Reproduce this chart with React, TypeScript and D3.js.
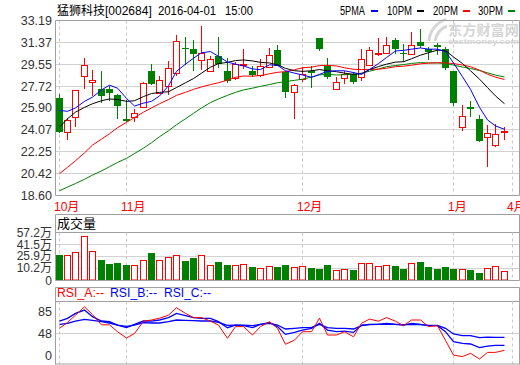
import * as d3 from 'd3';

// daily candles, 2015-10 .. 2016-04-01 (prices in yuan)
const opens = [26.75, 23.9, 25.13, 28.6, 28.05, 27.45, 27.45, 27.0, 24.95, 25.1, 26.0, 28.95, 27.2, 27.7, 28.75, 30.9, 30.85, 29.9, 29.0, 30.2, 29.0, 28.4, 29.45, 28.95, 28.65, 29.35, 30.75, 28.9, 27.3, 28.3, 29.0, 31.7, 29.4, 27.45, 28.4, 28.75, 28.5, 29.45, 30.4, 30.5, 31.55, 30.45, 30.4, 31.4, 30.85, 31.15, 30.8, 28.95, 24.3, 26.0, 25.0, 23.55, 22.8, 23.85];
const highs = [27.1, 25.1, 27.4, 30.1, 29.1, 28.95, 27.7, 27.1, 26.6, 25.85, 28.05, 29.6, 28.6, 29.8, 31.95, 31.8, 31.55, 32.75, 30.25, 31.8, 30.1, 29.7, 30.8, 29.4, 29.95, 30.9, 31.15, 29.0, 27.9, 29.3, 29.4, 31.75, 30.05, 28.5, 29.0, 28.9, 30.8, 31.0, 31.7, 31.85, 31.75, 31.2, 32.2, 32.5, 31.0, 31.3, 30.95, 28.95, 26.15, 26.45, 25.3, 24.45, 24.6, 24.3];
const lows = [23.85, 23.25, 24.3, 27.5, 26.9, 26.3, 26.45, 25.0, 24.7, 24.75, 25.95, 27.85, 27.1, 26.95, 28.6, 29.5, 29.0, 29.1, 28.9, 29.2, 28.0, 28.2, 29.15, 28.5, 28.45, 29.3, 29.4, 26.75, 25.0, 28.1, 27.6, 30.65, 28.3, 27.4, 27.9, 27.9, 28.15, 29.4, 30.25, 30.4, 30.4, 29.7, 30.3, 30.9, 29.9, 30.3, 29.1, 26.1, 23.95, 25.15, 23.1, 20.95, 22.65, 23.2];
const closes = [23.9, 24.9, 27.36, 29.5, 28.2, 26.88, 27.15, 26.05, 24.75, 25.45, 28.0, 27.9, 28.25, 29.2, 31.45, 30.8, 30.4, 30.45, 30.0, 29.55, 28.15, 29.6, 29.55, 28.65, 29.4, 30.35, 29.45, 27.2, 27.85, 28.7, 28.85, 30.8, 28.5, 28.05, 28.75, 28.05, 30.0, 30.7, 30.45, 31.15, 30.8, 30.35, 31.15, 31.1, 30.6, 30.95, 29.2, 26.25, 25.25, 25.85, 23.13, 23.85, 23.75, 23.95];
// volume in 万 shares
const volumes = [27.9, 27.5, 31.3, 52.5, 32.6, 21.4, 15.8, 17.5, 14.5, 14.5, 21.0, 30.3, 21.0, 24.7, 27.5, 19.9, 23.4, 27.5, 14.5, 18.8, 14.5, 14.5, 15.8, 11.7, 11.0, 12.8, 11.5, 14.7, 11.5, 12.8, 10.4, 9.3, 14.7, 8.0, 8.9, 8.0, 17.1, 17.1, 13.2, 14.1, 12.8, 9.3, 17.1, 18.4, 11.5, 9.3, 11.9, 9.3, 8.9, 8.0, 4.1, 10.2, 12.8, 6.3];

const ma5 = [25.69, 25.62, 25.9, 26.45, 26.8, 27.4, 27.8, 27.55, 26.7, 26.06, 26.3, 26.45, 26.9, 27.75, 28.95, 29.55, 30.05, 30.5, 30.6, 30.2, 29.72, 29.55, 29.4, 29.15, 29.1, 29.5, 29.45, 29.0, 28.8, 28.65, 28.45, 28.7, 28.95, 29.0, 29.0, 28.85, 28.7, 29.1, 29.6, 30.1, 30.65, 30.7, 30.8, 30.9, 30.8, 30.8, 30.6, 29.65, 28.5, 27.45, 25.95, 24.9, 24.4, 24.12];
const ma10 = [24.3, 25.0, 25.55, 25.95, 26.25, 26.5, 26.65, 26.6, 26.45, 26.5, 26.85, 27.1, 27.2, 27.25, 27.6, 28.0, 28.35, 28.8, 29.3, 29.6, 29.7, 29.85, 29.9, 29.82, 29.7, 29.65, 29.5, 29.2, 29.0, 28.95, 29.0, 29.1, 29.0, 28.92, 28.8, 28.7, 28.75, 29.1, 29.35, 29.55, 29.72, 29.75, 30.0, 30.3, 30.5, 30.72, 30.68, 30.15, 29.6, 29.0, 28.3, 27.6, 26.9, 26.25];
const ma20 = [20.42, 20.95, 21.5, 22.15, 22.8, 23.3, 23.75, 24.25, 24.7, 25.1, 25.55, 25.9, 26.25, 26.6, 26.95, 27.2, 27.45, 27.65, 27.85, 28.0, 28.22, 28.45, 28.56, 28.55, 28.6, 28.75, 28.87, 28.93, 29.08, 29.25, 29.3, 29.43, 29.45, 29.4, 29.25, 29.12, 29.1, 29.11, 29.13, 29.21, 29.34, 29.38, 29.46, 29.58, 29.64, 29.67, 29.66, 29.6, 29.48, 29.34, 29.05, 28.71, 28.47, 28.27];
const ma30 = [19.0, 19.3, 19.6, 19.95, 20.3, 20.65, 21.0, 21.35, 21.7, 22.1, 22.55, 23.0, 23.5, 24.0, 24.5, 25.0, 25.45, 25.9, 26.35, 26.65, 26.95, 27.2, 27.4, 27.55, 27.7, 27.85, 28.0, 28.1, 28.2, 28.3, 28.47, 28.66, 28.7, 28.65, 28.67, 28.71, 28.8, 28.96, 29.15, 29.34, 29.43, 29.52, 29.61, 29.68, 29.65, 29.65, 29.61, 29.47, 29.31, 29.19, 29.02, 28.83, 28.64, 28.48];

const rsiA = [56, 66, 78, 92, 79, 62, 62, 50.5, 40, 47.5, 68, 70, 73, 78, 90.5, 81, 74, 74, 68, 61.5, 39.5, 59, 59, 45, 59, 67, 56, 29.5, 36.5, 50.5, 50.5, 73, 45, 45, 50.5, 42, 64.5, 71.5, 68, 74, 68, 60.5, 70, 70, 59, 60.5, 36, 11.5, 9, 14.5, 5, 16, 16, 19.5];
const rsiB = [68.3, 72.8, 81, 86.6, 75.5, 68.3, 67.2, 61.6, 57.2, 62.7, 68.3, 68.3, 70, 73.9, 81, 77.2, 73.9, 72.8, 72.8, 67.2, 57.2, 61.6, 60.5, 57.2, 62.7, 66, 59, 46, 49.4, 53.3, 56, 64.4, 53.3, 50.5, 51.6, 49.4, 61.6, 62.7, 62.7, 64.4, 62.7, 61.6, 64.4, 62.7, 60.5, 60.5, 50.5, 34, 31, 30, 24, 26.6, 27.7, 27.7];
const rsiC = [62.7, 64.4, 68.3, 71.1, 69.4, 67.2, 65, 61.6, 59.4, 61.6, 65.5, 65, 65, 67.2, 70, 69.4, 68.9, 68.3, 68.3, 66.1, 61.1, 61.6, 61.6, 60.5, 62.7, 64.4, 61.6, 55, 56.1, 57.2, 57.7, 62.7, 57.2, 56.1, 56.1, 55, 60.5, 62.2, 62.7, 63.3, 62.7, 62.2, 62.7, 62.2, 61.1, 61.1, 56.1, 46.7, 43.9, 43.9, 40.5, 41.6, 41.1, 41.1];

const priceTicks = [33.19, 31.37, 29.55, 27.72, 25.9, 24.07, 22.25, 20.42, 18.6];
const volTicks = [57.2, 41.5, 25.9, 10.2];
const rsiTicks = [85, 48, 0];
const monthLabels = ['10月', '11月', '12月', '1月', '4月'];
const monthIdx = [0, 8, 29, 47, 54];

const W = 520;
const H = 365;
const left = 55.5;
const right = 519.5;
const frame = '#a0a0a0';
const grid = '#d2d2d2';
const up = '#ff0000';
const down = '#008000';
const font = '"Liberation Sans", Arial, "Noto Sans CJK SC", sans-serif';

const x = d3.scaleLinear().domain([0, closes.length - 1]).range([58.5, 503.7]);
const yP = d3.scaleLinear().domain([18.6, 33.19]).range([195.5, 20.5]);
const yV = d3.scaleLinear().domain([-5.5, 57.2]).range([280.5, 232.5]);
const yR = d3.scaleLinear().domain([0, 100]).range([362, 302]);

const px = (i: number) => Math.round(x(i)) + 0.5;
const crisp = (v: number) => Math.round(v - 0.5) + 0.5;

const App = () => {
  const idx = d3.range(closes.length);
  const maLine = d3.line<number>().x((_, i) => px(i)).y(v => yP(v));
  const rsiLine = d3.line<number>().x((_, i) => px(i)).y(v => yR(v));
  const maSeries = [
    { vals: ma30, color: down },
    { vals: ma20, color: up },
    { vals: ma10, color: '#000000' },
    { vals: ma5, color: '#0000ff' },
  ];
  const legend = [
    { t: '5PMA', x: 340, dash: 371, color: '#0000ff' },
    { t: '10PM', x: 387, dash: 417, color: '#000000' },
    { t: '20PM', x: 433, dash: 463, color: up },
    { t: '30PM', x: 478, dash: 508, color: down },
  ];
  const vLines = (y0: number, y1: number, key: string) =>
    monthIdx.map((m, k) => (
      <line key={key + k} x1={px(m)} x2={px(m)} y1={y0} y2={y1}
        stroke="#c8c8c8" strokeDasharray="3,3" />
    ));

  return (
    <svg width={W} height={H} style={{ position: 'absolute', left: 0, top: 0, background: '#fff' }}
      fontFamily={font}>
      <rect width={W} height={H} fill="#fff" />

      {/* header */}
      <text x={57} y={14.5} fontSize={12} fill="#000">猛狮科技[002684]</text>
      <text x={158} y={14.5} fontSize={12} fill="#000" textLength={58} lengthAdjust="spacingAndGlyphs">2016-04-01</text>
      <text x={225} y={14.5} fontSize={12} fill="#000" textLength={28} lengthAdjust="spacingAndGlyphs">15:00</text>
      {legend.map(l => (
        <g key={l.t}>
          <text x={l.x} y={14.5} fontSize={12} fill="#000" textLength={25} lengthAdjust="spacingAndGlyphs">{l.t}</text>
          <line x1={l.dash} x2={l.dash + 7} y1={11} y2={11} stroke={l.color} strokeWidth={2} />
        </g>
      ))}

      {/* watermark */}
      <g fill="none" stroke="#d6d6d6" strokeWidth={3}>
        <path d="M429,41 Q430,26 446,19" />
        <path d="M435,41 Q437,30 447,26" />
      </g>
      <text x={448} y={35} fontSize={14} fontWeight="bold" fill="#d6d6d6" textLength={71} lengthAdjust="spacingAndGlyphs">东方财富网</text>
      <text x={448} y={44} fontSize={8} fontWeight="bold" fill="#d6d6d6" textLength={71} lengthAdjust="spacingAndGlyphs">eastmoney.com</text>

      {/* main panel grid */}
      {priceTicks.map(t => (
        <g key={'p' + t}>
          <line x1={left} x2={right} y1={crisp(yP(t))} y2={crisp(yP(t))} stroke={grid} />
          <text x={52} y={yP(t) + 4.5} fontSize={12.5} textAnchor="end" fill="#333">{t.toFixed(2)}</text>
        </g>
      ))}
      {vLines(20.5, 195.5, 'm')}
      <line x1={left} x2={right} y1={20.5} y2={20.5} stroke={frame} />
      <line x1={left} x2={right} y1={195.5} y2={195.5} stroke={frame} />
      <line x1={left} x2={left} y1={20.5} y2={195.5} stroke={frame} />
      <line x1={right} x2={right} y1={20.5} y2={195.5} stroke={frame} />

      {monthLabels.map((m, k) => (
        <text key={m} x={px(monthIdx[k]) - 5.5} y={210.5} fontSize={12} fill={up}>{m}</text>
      ))}

      {/* candles */}
      {idx.map(i => {
        const isUp = closes[i] >= opens[i];
        const c = isUp ? up : down;
        const top = yP(Math.max(opens[i], closes[i]));
        const bot = yP(Math.min(opens[i], closes[i]));
        const bh = Math.max(1, Math.round(bot - top));
        return (
          <g key={'c' + i}>
            <line x1={px(i)} x2={px(i)} y1={Math.round(yP(highs[i]))} y2={Math.round(yP(lows[i]))} stroke={c} />
            {isUp ? (
              <rect x={px(i) - 3} y={Math.round(top) + 0.5} width={6} height={bh} fill="#fff" stroke={c} />
            ) : (
              <rect x={px(i) - 3.5} y={Math.round(top)} width={7} height={bh} fill={c} />
            )}
          </g>
        );
      })}

      {maSeries.map(s => (
        <path key={s.color} d={maLine(s.vals) || ''} fill="none" stroke={s.color} strokeWidth={1} />
      ))}

      {/* volume panel */}
      <line x1={left} x2={right} y1={214.5} y2={214.5} stroke={frame} />
      <text x={57} y={228} fontSize={13} fill="#000">成交量</text>
      {volTicks.map(t => (
        <g key={'v' + t}>
          <line x1={left} x2={right} y1={crisp(yV(t))} y2={crisp(yV(t))} stroke={t === volTicks[0] ? frame : grid} />
          <text x={52} y={yV(t) + 4} fontSize={12} textAnchor="end" fill="#333">{t.toFixed(1)}万</text>
        </g>
      ))}
      <text x={52} y={yV.range()[0] + 4} fontSize={12} textAnchor="end" fill="#333">0</text>
      {vLines(232.5, 280.5, 'v')}
      {idx.map(i => {
        const isUp = closes[i] >= opens[i];
        const y0 = yV.range()[0];
        const yv = Math.round(yV(volumes[i]));
        return isUp ? (
          <rect key={'vb' + i} x={px(i) - 3} y={yv + 0.5} width={6} height={y0 - yv - 1} fill="#fff" stroke={up} />
        ) : (
          <rect key={'vb' + i} x={px(i) - 3.5} y={yv} width={7} height={y0 - yv} fill={down} />
        );
      })}
      <line x1={left} x2={right} y1={280.5} y2={280.5} stroke={frame} />
      <line x1={left} x2={left} y1={214.5} y2={280.5} stroke={frame} />
      <line x1={right} x2={right} y1={214.5} y2={280.5} stroke={frame} />

      {/* RSI panel */}
      <line x1={left} x2={right} y1={287.5} y2={287.5} stroke={frame} />
      <line x1={left} x2={right} y1={301.5} y2={301.5} stroke={frame} />
      <text x={57} y={297} fontSize={12} fill={up} textLength={47} lengthAdjust="spacingAndGlyphs">RSI_A:--</text>
      <text x={110} y={297} fontSize={12} fill="#0000ff" textLength={47} lengthAdjust="spacingAndGlyphs">RSI_B:--</text>
      <text x={164} y={297} fontSize={12} fill="#0000ff" textLength={47} lengthAdjust="spacingAndGlyphs">RSI_C:--</text>
      {rsiTicks.map(t => (
        <g key={'r' + t}>
          {t === 48 && <line x1={left} x2={right} y1={crisp(yR(t))} y2={crisp(yR(t))} stroke={grid} />}
          <text x={52} y={Math.min(yR(t), 355.5) + 4.5} fontSize={12.5} textAnchor="end" fill="#333">{t}</text>
        </g>
      ))}
      {vLines(301.5, 364, 'r')}
      <path d={rsiLine(rsiC) || ''} fill="none" stroke="#0000ff" strokeWidth={1.3} />
      <path d={rsiLine(rsiB) || ''} fill="none" stroke="#0000ff" strokeWidth={1.3} />
      <path d={rsiLine(rsiA) || ''} fill="none" stroke={up} strokeWidth={1} />
      <line x1={left} x2={right} y1={364} y2={364} stroke={frame} />
      <line x1={left} x2={left} y1={287.5} y2={364.5} stroke={frame} />
      <line x1={right} x2={right} y1={287.5} y2={364.5} stroke={frame} />
    </svg>
  );
};

export default App;
